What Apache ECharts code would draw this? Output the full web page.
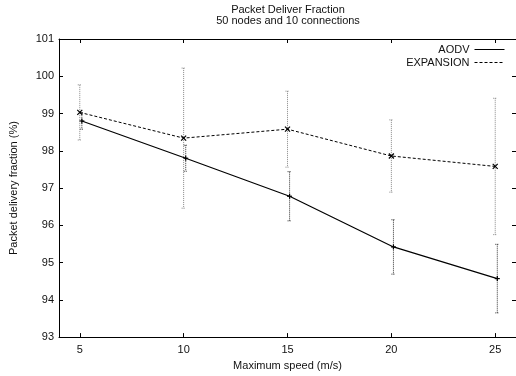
<!DOCTYPE html>
<html>
<head>
<meta charset="utf-8">
<script src="https://cdn.jsdelivr.net/npm/echarts@6/dist/echarts.min.js"></script>
<style>
  html, body { margin: 0; padding: 0; background: #fff; }
  #chart { width: 516px; height: 376px; }
</style>
</head>
<body>
<div id="chart"></div>
<script>
// max speed (m/s); AODV points sit a hair to the right in the original plot
const speeds = [5, 10, 15, 20, 25];
const aodvSpeeds = [5.1, 10.1, 15.1, 20.1, 25.1];

const aodvMean = [98.80, 97.80, 96.78, 95.42, 94.57];
const aodvErr = [0.22, 0.35, 0.66, 0.73, 0.92];

const expansionMean = [99.03, 98.34, 98.58, 97.86, 97.58];
const expansionErr = [0.74, 1.88, 1.02, 0.97, 1.83];

const xTicks = [5, 10, 15, 20, 25];
const yTicks = [93, 94, 95, 96, 97, 98, 99, 100, 101];

const FONT = "Liberation Sans, Arial, Helvetica, sans-serif";

// draws the dotted error bar with caps plus the point marker
function errorBars(color, marker) {
  return function (params, api) {
    const x = api.value(0), y = api.value(1), e = api.value(2);
    const c = api.coord([x, y]);
    const top = api.coord([x, y + e]);
    const bot = api.coord([x, y - e]);
    const barStyle = { stroke: color, lineWidth: 1, lineDash: [1, 1] };
    const markStyle = { stroke: "#000", lineWidth: 1.2 };
    const s = 2.5;
    const children = [
      { type: "line", shape: { x1: c[0], y1: top[1], x2: c[0], y2: bot[1] }, style: barStyle },
      { type: "line", shape: { x1: c[0] - 2, y1: top[1], x2: c[0] + 2, y2: top[1] }, style: barStyle },
      { type: "line", shape: { x1: c[0] - 2, y1: bot[1], x2: c[0] + 2, y2: bot[1] }, style: barStyle },
    ];
    if (marker === "plus") {
      children.push({ type: "line", shape: { x1: c[0] - s, y1: c[1], x2: c[0] + s, y2: c[1] }, style: markStyle });
      children.push({ type: "line", shape: { x1: c[0], y1: c[1] - s, x2: c[0], y2: c[1] + s }, style: markStyle });
    } else {
      children.push({ type: "line", shape: { x1: c[0] - s, y1: c[1] - s, x2: c[0] + s, y2: c[1] + s }, style: markStyle });
      children.push({ type: "line", shape: { x1: c[0] - s, y1: c[1] + s, x2: c[0] + s, y2: c[1] - s }, style: markStyle });
    }
    return { type: "group", children: children };
  };
}

const chart = echarts.init(document.getElementById("chart"), null, { renderer: "canvas" });

const axisLine = { show: true, onZero: false, lineStyle: { color: "#000", width: 1 } };
const tickStyle = { inside: true, length: 4, lineStyle: { color: "#000", width: 1 } };

chart.setOption({
  animation: false,
  backgroundColor: "#fff",
  textStyle: { fontFamily: FONT },
  graphic: [
    { type: "text", x: 288, y: 10, style: { text: "Packet Deliver Fraction", font: "11px " + FONT, fill: "#111", align: "center", verticalAlign: "middle" } },
    { type: "text", x: 288, y: 21, style: { text: "50 nodes and 10 connections", font: "11px " + FONT, fill: "#111", align: "center", verticalAlign: "middle" } },
  ],
  legend: {
    data: ["AODV", "EXPANSION"],
    orient: "vertical",
    right: 11,
    top: 44,
    padding: 0,
    align: "right",
    itemWidth: 30,
    itemHeight: 10,
    itemGap: 2,
    itemStyle: { opacity: 0 },
    lineStyle: { width: 1 },
    textStyle: { fontSize: 11, color: "#111", fontFamily: FONT },
  },
  grid: { left: 57, top: 39, width: 462, height: 301, containLabel: false },
  xAxis: [
    {
      type: "value",
      min: 4,
      max: 26,
      position: "bottom",
      name: "Maximum speed (m/s)",
      nameLocation: "middle",
      nameGap: 21,
      nameTextStyle: { fontSize: 11, color: "#111", fontFamily: FONT },
      axisLine: axisLine,
      axisTick: Object.assign({ customValues: xTicks }, tickStyle),
      axisLabel: { customValues: xTicks, fontSize: 11, color: "#111", margin: 7, fontFamily: FONT },
      splitLine: { show: false },
    },
    {
      type: "value",
      min: 4,
      max: 26,
      position: "top",
      axisLine: axisLine,
      axisTick: Object.assign({ customValues: xTicks }, tickStyle),
      axisLabel: { show: false },
      splitLine: { show: false },
    },
  ],
  yAxis: [
    {
      type: "value",
      min: 93,
      max: 101,
      interval: 1,
      position: "left",
      name: "Packet delivery fraction (%)",
      nameLocation: "middle",
      nameGap: 40,
      nameTextStyle: { fontSize: 11, color: "#111", fontFamily: FONT },
      axisLine: axisLine,
      axisTick: tickStyle,
      axisLabel: { fontSize: 11, color: "#111", margin: 5, fontFamily: FONT },
      splitLine: { show: false },
    },
    {
      type: "value",
      min: 93,
      max: 101,
      interval: 1,
      position: "right",
      axisLine: axisLine,
      axisTick: tickStyle,
      axisLabel: { show: false },
      splitLine: { show: false },
    },
  ],
  series: [
    {
      name: "AODV",
      type: "line",
      data: aodvSpeeds.map((x, i) => [x, aodvMean[i]]),
      showSymbol: false,
      symbol: "none",
      lineStyle: { color: "#000", width: 1.2, type: "solid" },
      itemStyle: { color: "#000" },
      z: 3,
    },
    {
      name: "EXPANSION",
      type: "line",
      data: speeds.map((x, i) => [x, expansionMean[i]]),
      showSymbol: false,
      symbol: "none",
      lineStyle: { color: "#000", width: 1, type: [3, 2] },
      itemStyle: { color: "#000" },
      z: 3,
    },
    {
      type: "custom",
      renderItem: errorBars("#333", "plus"),
      data: aodvSpeeds.map((x, i) => [x, aodvMean[i], aodvErr[i]]),
      z: 2,
    },
    {
      type: "custom",
      renderItem: errorBars("#888", "cross"),
      data: speeds.map((x, i) => [x, expansionMean[i], expansionErr[i]]),
      z: 2,
    },
  ],
});
</script>
</body>
</html>
